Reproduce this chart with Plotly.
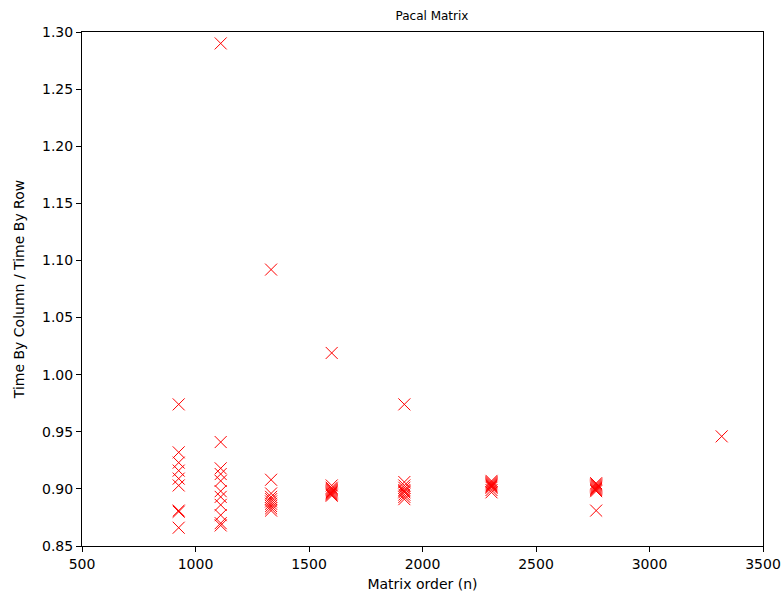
import plotly.graph_objects as go

orders = [926, 1111, 1333, 1600, 1920, 2304, 2765, 3318]
ratios = [
    [0.974, 0.932, 0.923, 0.916, 0.909, 0.903, 0.881, 0.880, 0.866],
    [1.290, 0.941, 0.918, 0.913, 0.907, 0.898, 0.893, 0.886, 0.877, 0.870, 0.868],
    [1.092, 0.908, 0.896, 0.893, 0.891, 0.889, 0.887, 0.885, 0.883, 0.881],
    [1.019, 0.903, 0.901, 0.900, 0.899, 0.898, 0.897, 0.896, 0.895, 0.894],
    [0.974, 0.906, 0.903, 0.901, 0.899, 0.898, 0.897, 0.895, 0.893, 0.891],
    [0.907, 0.906, 0.905, 0.904, 0.903, 0.902, 0.901, 0.899, 0.897],
    [0.905, 0.904, 0.903, 0.902, 0.901, 0.900, 0.899, 0.898, 0.881],
    [0.946],
]

xs, ys = [], []
for n, vals in zip(orders, ratios):
    for v in vals:
        xs.append(n)
        ys.append(v)

fig = go.Figure(go.Scatter(
    x=xs, y=ys, mode="markers",
    marker=dict(symbol="x-thin", size=12, opacity=1,
                line=dict(color="#ff0000", width=1), color="#ff0000"),
    showlegend=False,
))

fig.update_layout(
    width=784, height=596,
    margin=dict(l=82, r=21, t=32, b=50),
    paper_bgcolor="white", plot_bgcolor="white",
    font=dict(family="DejaVu Sans", size=13, color="black"),
    title=dict(text="Pacal Matrix", x=0.551, xanchor="center", y=0.974, yanchor="middle",
               font=dict(family="DejaVu Sans", size=12, color="black")),
    xaxis=dict(range=[500, 3500], dtick=500, tick0=500, showgrid=False, zeroline=False,
               showline=True, linecolor="black", linewidth=1, mirror=True,
               ticks="outside", ticklen=5, tickcolor="black", automargin=False,
               title=dict(text="Matrix order (n)", standoff=8,
                          font=dict(family="DejaVu Sans", size=14)),
               tickfont=dict(family="DejaVu Sans", size=14)),
    yaxis=dict(range=[0.85, 1.30], dtick=0.05, tick0=0.85, tickformat=".2f", showgrid=False,
               zeroline=False, showline=True, linecolor="black", linewidth=1, mirror=True,
               ticks="outside", ticklen=5, tickcolor="black", automargin=False,
               title=dict(text="Time By Column / Time By Row", standoff=14,
                          font=dict(family="DejaVu Sans", size=14)),
               tickfont=dict(family="DejaVu Sans", size=14)),
)

fig.write_html("out.html")
